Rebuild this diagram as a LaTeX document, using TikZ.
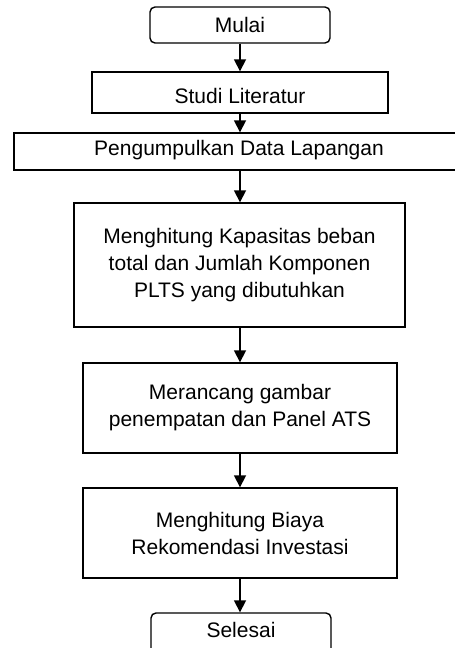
\documentclass[tikz,border=0pt]{standalone}
\usepackage{fontspec}
\setmainfont{Liberation Sans}
\usetikzlibrary{arrows.meta}
\begin{document}
\begin{tikzpicture}[x=1pt,y=-1pt,
  base/.style={draw=black, line width=1.4pt, inner sep=0pt, align=center,
    font=\fontsize{21}{27}\selectfont, text=black},
  term/.style={base, rounded corners=5pt},
  proc/.style={base},
  arr/.style={draw=black, line width=1.7pt, -{Triangle[length=12pt,width=12pt]}}]
\useasboundingbox (0,0) rectangle (455,648);
\node[term, minimum width=180, minimum height=36, text height=14, text depth=0] (mulai) at (240,25) {Mulai};
\node[proc, minimum width=296, minimum height=41, text height=21, text depth=0] (studi) at (240,92.5) {Studi Literatur};
\node[proc, minimum width=450, minimum height=37, text height=7, text depth=0] (peng) at (239,151.5) {Pengumpulkan Data Lapangan};
\node[proc, minimum width=331, minimum height=124] (hitung) at (239.5,265) {Menghitung Kapasitas beban\\total dan Jumlah Komponen\\PLTS yang dibutuhkan};
\node[proc, minimum width=314, minimum height=90] (rancang) at (240,408) {Merancang gambar\\penempatan dan Panel ATS};
\node[proc, minimum width=314, minimum height=90] (biaya) at (240,533) {Menghitung Biaya\\Rekomendasi Investasi};
\node[term, minimum width=180, minimum height=42, text height=6, text depth=0] (selesai) at (241,634) {Selesai};
\draw[arr] (mulai.south) -- (mulai.south |- studi.north);
\draw[arr] (studi.south) -- (studi.south |- peng.north);
\draw[arr] (studi.south |- peng.south) -- (studi.south |- hitung.north);
\draw[arr] (studi.south |- hitung.south) -- (studi.south |- rancang.north);
\draw[arr] (rancang.south) -- (rancang.south |- biaya.north);
\draw[arr] (biaya.south) -- (biaya.south |- selesai.north);
\end{tikzpicture}
\end{document}
